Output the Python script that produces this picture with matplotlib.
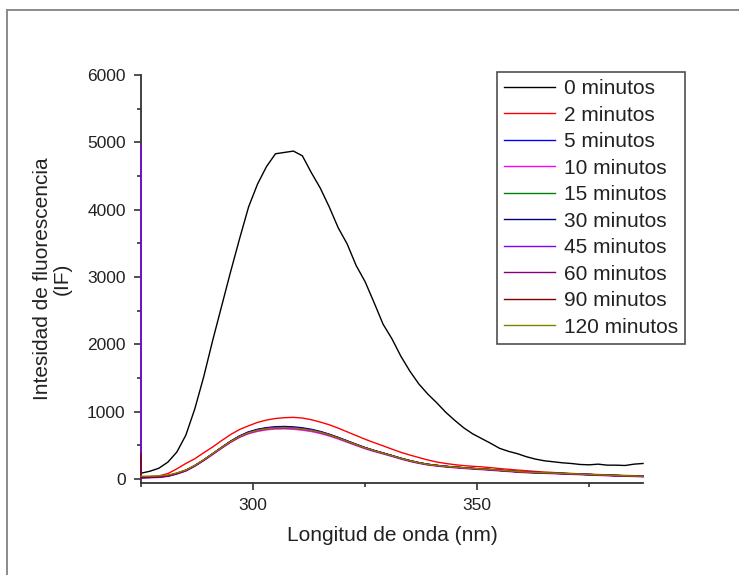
import matplotlib
matplotlib.use("Agg")
import matplotlib.pyplot as plt
from matplotlib.lines import Line2D
import numpy as np

plt.rcParams['font.family'] = ['Liberation Sans', 'DejaVu Sans']

# ---------------- data ----------------
wavelength = list(range(275, 388, 2))  # 275 ... 387 nm

labels = ["0 minutos", "2 minutos", "5 minutos", "10 minutos", "15 minutos",
          "30 minutos", "45 minutos", "60 minutos", "90 minutos", "120 minutos"]
colors = ["#000000", "#FF0000", "#0000FF", "#FF00FF", "#008000",
          "#000080", "#8000FF", "#800080", "#800000", "#808000"]

if_0 = [85, 115, 160, 250, 400, 650, 1040, 1520, 2060, 2570, 3080, 3570, 4040, 4380,
        4640, 4830, 4850, 4870, 4800, 4550, 4320, 4040, 3730, 3490, 3170, 2930, 2620,
        2300, 2080, 1820, 1600, 1410, 1260, 1130, 990, 870, 760, 670, 600, 530, 455,
        410, 375, 330, 295, 270, 255, 240, 230, 215, 210, 220, 205, 205, 200, 220, 230]
if_2 = [30, 35, 45, 80, 150, 230, 300, 390, 475, 570, 660, 735, 790, 840, 875, 898,
        910, 915, 905, 880, 845, 805, 755, 700, 645, 590, 540, 492, 443, 395, 355, 318,
        282, 252, 230, 212, 198, 188, 180, 168, 155, 143, 132, 122, 112, 103, 96, 88,
        82, 76, 71, 66, 62, 57, 52, 49, 46]
if_5 = [20, 24, 30, 44, 78, 122, 192, 278, 372, 468, 560, 640, 700, 738, 762, 776,
        780, 774, 760, 738, 706, 665, 618, 566, 515, 466, 424, 386, 347, 307, 272, 242,
        218, 201, 187, 176, 166, 156, 148, 139, 129, 119, 109, 101, 96, 91, 86, 81, 76,
        71, 66, 61, 56, 51, 47, 43, 39]
if_10 = [15, 18, 22, 38, 72, 118, 188, 272, 362, 455, 543, 617, 672, 707, 730, 742,
         745, 738, 725, 705, 676, 638, 594, 545, 496, 449, 408, 372, 334, 295, 260, 231,
         207, 191, 177, 166, 156, 146, 138, 129, 119, 110, 100, 92, 87, 83, 78, 73, 68,
         63, 58, 53, 48, 44, 40, 36, 33]
if_15 = [22, 26, 31, 46, 80, 126, 196, 281, 373, 466, 556, 631, 689, 726, 750, 762,
         765, 758, 745, 725, 695, 656, 611, 561, 511, 463, 421, 384, 346, 306, 271, 241,
         217, 201, 187, 176, 166, 156, 148, 139, 129, 119, 109, 101, 96, 91, 87, 82, 77,
         71, 66, 61, 56, 51, 47, 43, 39]
if_30 = [20, 24, 30, 45, 82, 128, 198, 283, 376, 470, 561, 637, 696, 733, 757, 769,
         772, 765, 752, 731, 700, 660, 614, 564, 513, 465, 422, 385, 347, 307, 272, 242,
         217, 201, 187, 176, 166, 156, 148, 139, 129, 119, 109, 101, 96, 91, 86, 81, 76,
         71, 66, 61, 56, 51, 47, 43, 39]
if_45 = [20, 22, 28, 43, 78, 124, 194, 279, 370, 463, 553, 628, 686, 722, 746, 758,
         762, 755, 742, 722, 692, 653, 608, 558, 508, 460, 418, 381, 343, 303, 268, 238,
         214, 198, 184, 173, 163, 153, 145, 136, 126, 116, 106, 98, 93, 88, 84, 79, 74,
         68, 63, 58, 53, 48, 44, 40, 36]
if_60 = [21, 25, 31, 46, 81, 127, 197, 282, 374, 467, 557, 632, 690, 726, 750, 761,
         765, 758, 745, 725, 695, 656, 611, 561, 511, 463, 421, 384, 346, 306, 271, 241,
         217, 201, 187, 176, 166, 156, 148, 139, 129, 119, 109, 101, 96, 91, 87, 82, 77,
         71, 66, 61, 56, 51, 47, 43, 39]
if_90 = [25, 28, 34, 48, 84, 130, 199, 283, 374, 466, 556, 630, 688, 724, 748, 759,
         763, 757, 744, 724, 694, 655, 610, 560, 510, 462, 420, 383, 345, 305, 270, 240,
         216, 200, 186, 175, 165, 155, 147, 138, 128, 118, 108, 100, 95, 90, 86, 81, 76,
         70, 65, 60, 55, 50, 46, 42, 38]
if_120 = [40, 42, 45, 58, 90, 133, 200, 284, 374, 466, 555, 629, 686, 722, 746, 757,
          761, 754, 741, 721, 692, 653, 608, 558, 508, 460, 419, 382, 344, 305, 270, 240,
          216, 200, 186, 175, 165, 156, 148, 139, 129, 120, 110, 102, 97, 92, 88, 83, 78,
          72, 67, 62, 57, 52, 48, 44, 40]

# first recorded reading (spike at the start of the scan)
start_wl = 275
start_45 = 4950
start_90 = 380

series = [if_0, if_2, if_5, if_10, if_15, if_30, if_45, if_60, if_90, if_120]
start_points = {6: start_45, 8: start_90}

x_ticks_major = [300, 350]
x_ticks_minor = [275, 325, 375]
y_ticks_major = [0, 1000, 2000, 3000, 4000, 5000, 6000]
y_ticks_minor = [500, 1500, 2500, 3500, 4500, 5500]

# ---------------- figure ----------------
W, H = 739, 575
fig = plt.figure(figsize=(W / 100, H / 100), dpi=100)
fig.patch.set_facecolor('white')

# outer frame (gray)
fig.add_artist(Line2D([7 / W, 1.0], [1 - 10 / H, 1 - 10 / H], transform=fig.transFigure,
                      color='#8a8a8a', lw=1.4))
fig.add_artist(Line2D([7 / W, 7 / W], [0.0, 1 - 10 / H], transform=fig.transFigure,
                      color='#8a8a8a', lw=1.4))

ax_l, ax_r, ax_t, ax_b = 141, 643, 75, 483
ax = fig.add_axes([ax_l / W, 1 - ax_b / H, (ax_r - ax_l) / W, (ax_b - ax_t) / H])

for i, (vals, lab, col) in enumerate(zip(series, labels, colors)):
    xs = list(wavelength)
    ys = list(vals)
    if i in start_points:
        xs = [start_wl] + xs
        ys = [start_points[i]] + ys
    ax.plot(xs, ys, color=col, lw=1.0, label=lab, zorder=3 + i * 0.01,
            clip_on=False)

ax.set_xlim(275, 387)
ax.set_ylim(-60, 6000)

ax.set_xticks(x_ticks_major)
ax.set_xticks(x_ticks_minor, minor=True)
ax.set_yticks(y_ticks_major)
ax.set_yticks(y_ticks_minor, minor=True)

for s in ['top', 'right']:
    ax.spines[s].set_visible(False)
for s in ['left', 'bottom']:
    ax.spines[s].set_color('#333333')
    ax.spines[s].set_linewidth(1.3)
    ax.spines[s].set_zorder(2)

ax.tick_params(axis='both', which='major', direction='out', length=5, width=1.2,
               color='#333333', labelsize=12.5, labelcolor='#222222', pad=6)
ax.tick_params(axis='both', which='minor', direction='out', length=3, width=1.2,
               color='#333333')

ax.set_xlabel("Longitud de onda (nm)", fontsize=15, color='#222222')
ax.set_ylabel("Intesidad de fluorescencia\n(IF)", fontsize=15, color='#222222',
              linespacing=1.1)
ax.xaxis.set_label_coords(0.5, -0.105)
ax.yaxis.set_label_coords(-0.137, 0.5)

leg = ax.legend(loc='upper left', bbox_to_anchor=(497 / W, 1 - 72 / H),
                bbox_transform=fig.transFigure, fontsize=15, frameon=True,
                fancybox=False, shadow=False, borderpad=0.35, labelspacing=0.36,
                handlelength=2.45, handletextpad=0.4, borderaxespad=0)
leg.get_frame().set_edgecolor('#222222')
leg.get_frame().set_linewidth(1.2)
leg.set_zorder(10)
for t in leg.get_texts():
    t.set_color('#222222')

fig.savefig("out.png", dpi=100, facecolor='white')
